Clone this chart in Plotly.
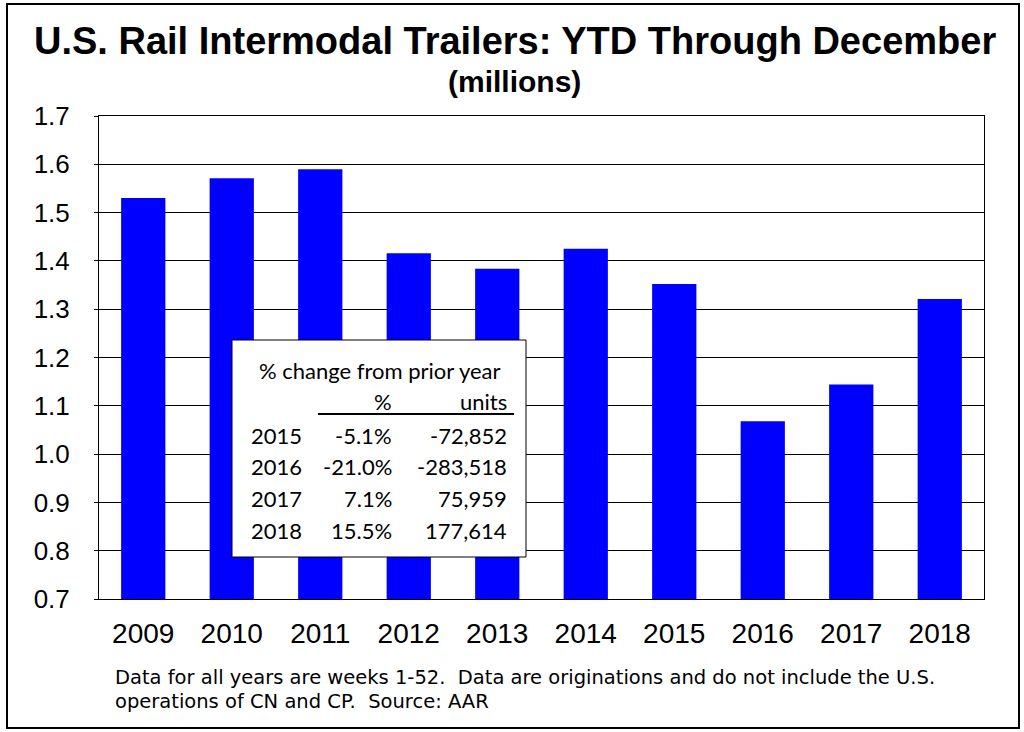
import plotly.graph_objects as go

# YTD through December, U.S. rail intermodal trailers (millions)
years = ['2009', '2010', '2011', '2012', '2013', '2014', '2015', '2016', '2017', '2018']
trailers = [1.530, 1.571, 1.590, 1.416, 1.384, 1.425, 1.352, 1.068, 1.144, 1.321]

# inset table: % change from prior year
tbl_years = ['2015', '2016', '2017', '2018']
tbl_pct = ['-5.1%', '-21.0%', '7.1%', '15.5%']
tbl_units = ['-72,852', '-283,518', '75,959', '177,614']

W, H = 1024, 732
L, R, T, B = 99, 984, 116, 599   # plot area in pixels


def px(x):
    return (x - L) / (R - L)


def py(y):
    return (B - y) / (B - T)


fig = go.Figure()
fig.add_trace(go.Bar(x=years, y=trailers, marker=dict(color='#0000FF', line=dict(width=0)),
                     hoverinfo='x+y'))

shapes = []
# outer frame
shapes.append(dict(type='rect', xref='paper', yref='paper', x0=px(7), x1=px(1019), y0=py(4), y1=py(728),
                   line=dict(color='black', width=2), fillcolor='rgba(0,0,0,0)', layer='below'))
# table box
shapes.append(dict(type='rect', xref='paper', yref='paper', x0=px(232), x1=px(526), y0=py(340), y1=py(557),
                   line=dict(color='black', width=1), fillcolor='white', layer='above'))
shapes.append(dict(type='line', xref='paper', yref='paper', x0=px(318), x1=px(514), y0=py(414), y1=py(414),
                   line=dict(color='black', width=2), layer='above'))

tfont = dict(family='Lato, Open Sans, sans-serif', size=22, color='black')
ann = []
ann.append(dict(text='% change from prior year', x=px(380), y=py(370), xanchor='center', yanchor='middle', font=tfont))
ann.append(dict(text='%', x=px(394), y=py(402), xanchor='right', yanchor='middle', font=tfont))
ann.append(dict(text='units', x=px(509), y=py(402), xanchor='right', yanchor='middle', font=tfont))
row_y = [435, 467, 498, 530]
for yr, p, u, ry in zip(tbl_years, tbl_pct, tbl_units, row_y):
    ann.append(dict(text=yr, x=px(249), y=py(ry), xanchor='left', yanchor='middle', font=tfont))
    ann.append(dict(text=p, x=px(394), y=py(ry), xanchor='right', yanchor='middle', font=tfont))
    ann.append(dict(text=u, x=px(509), y=py(ry), xanchor='right', yanchor='middle', font=tfont))

tit = 'Liberation Sans, Arial, sans-serif'
ann.append(dict(text='<b>U.S. Rail Intermodal Trailers: YTD Through December</b>', x=px(515), y=py(41),
                xanchor='center', yanchor='middle', font=dict(family=tit, size=38, color='black')))
ann.append(dict(text='<b>(millions)</b>', x=px(514), y=py(82), xanchor='center', yanchor='middle',
                font=dict(family=tit, size=30, color='black')))

foot = dict(family='DejaVu Sans, sans-serif', size=19.5, color='black')
ann.append(dict(text='Data for all years are weeks 1-52.  Data are originations and do not include the U.S.',
                x=px(113), y=py(677), xanchor='left', yanchor='middle', font=foot))
ann.append(dict(text='operations of CN and CP.  Source: AAR', x=px(113), y=py(701),
                xanchor='left', yanchor='middle', font=foot))

for a in ann:
    a.update(xref='paper', yref='paper', showarrow=False)

fig.update_layout(
    width=W, height=H,
    margin=dict(l=L, r=W - R, t=T, b=H - B),
    paper_bgcolor='white', plot_bgcolor='white',
    bargap=0.5,
    showlegend=False,
    shapes=shapes,
    annotations=ann,
    font=dict(family='Liberation Sans, Arial, sans-serif', color='black'),
)
fig.update_xaxes(showgrid=False, showline=True, linecolor='black', linewidth=1, mirror=True,
                 ticks='', tickfont=dict(size=28), ticklabelstandoff=9)
fig.update_yaxes(range=[0.7, 1.7], dtick=0.1, tick0=0.7, tickformat='.1f',
                 showgrid=True, gridcolor='black', gridwidth=1,
                 showline=True, linecolor='black', linewidth=1, mirror=True,
                 ticks='outside', ticklen=4, tickcolor='black',
                 tickfont=dict(size=26), ticklabelstandoff=19, zeroline=False)

# page body has a default 8px margin; drop it so the figure sits at the window corner
fig.write_html('out.html', config={'displayModeBar': False},
               post_script="document.body.style.margin='0px';")
